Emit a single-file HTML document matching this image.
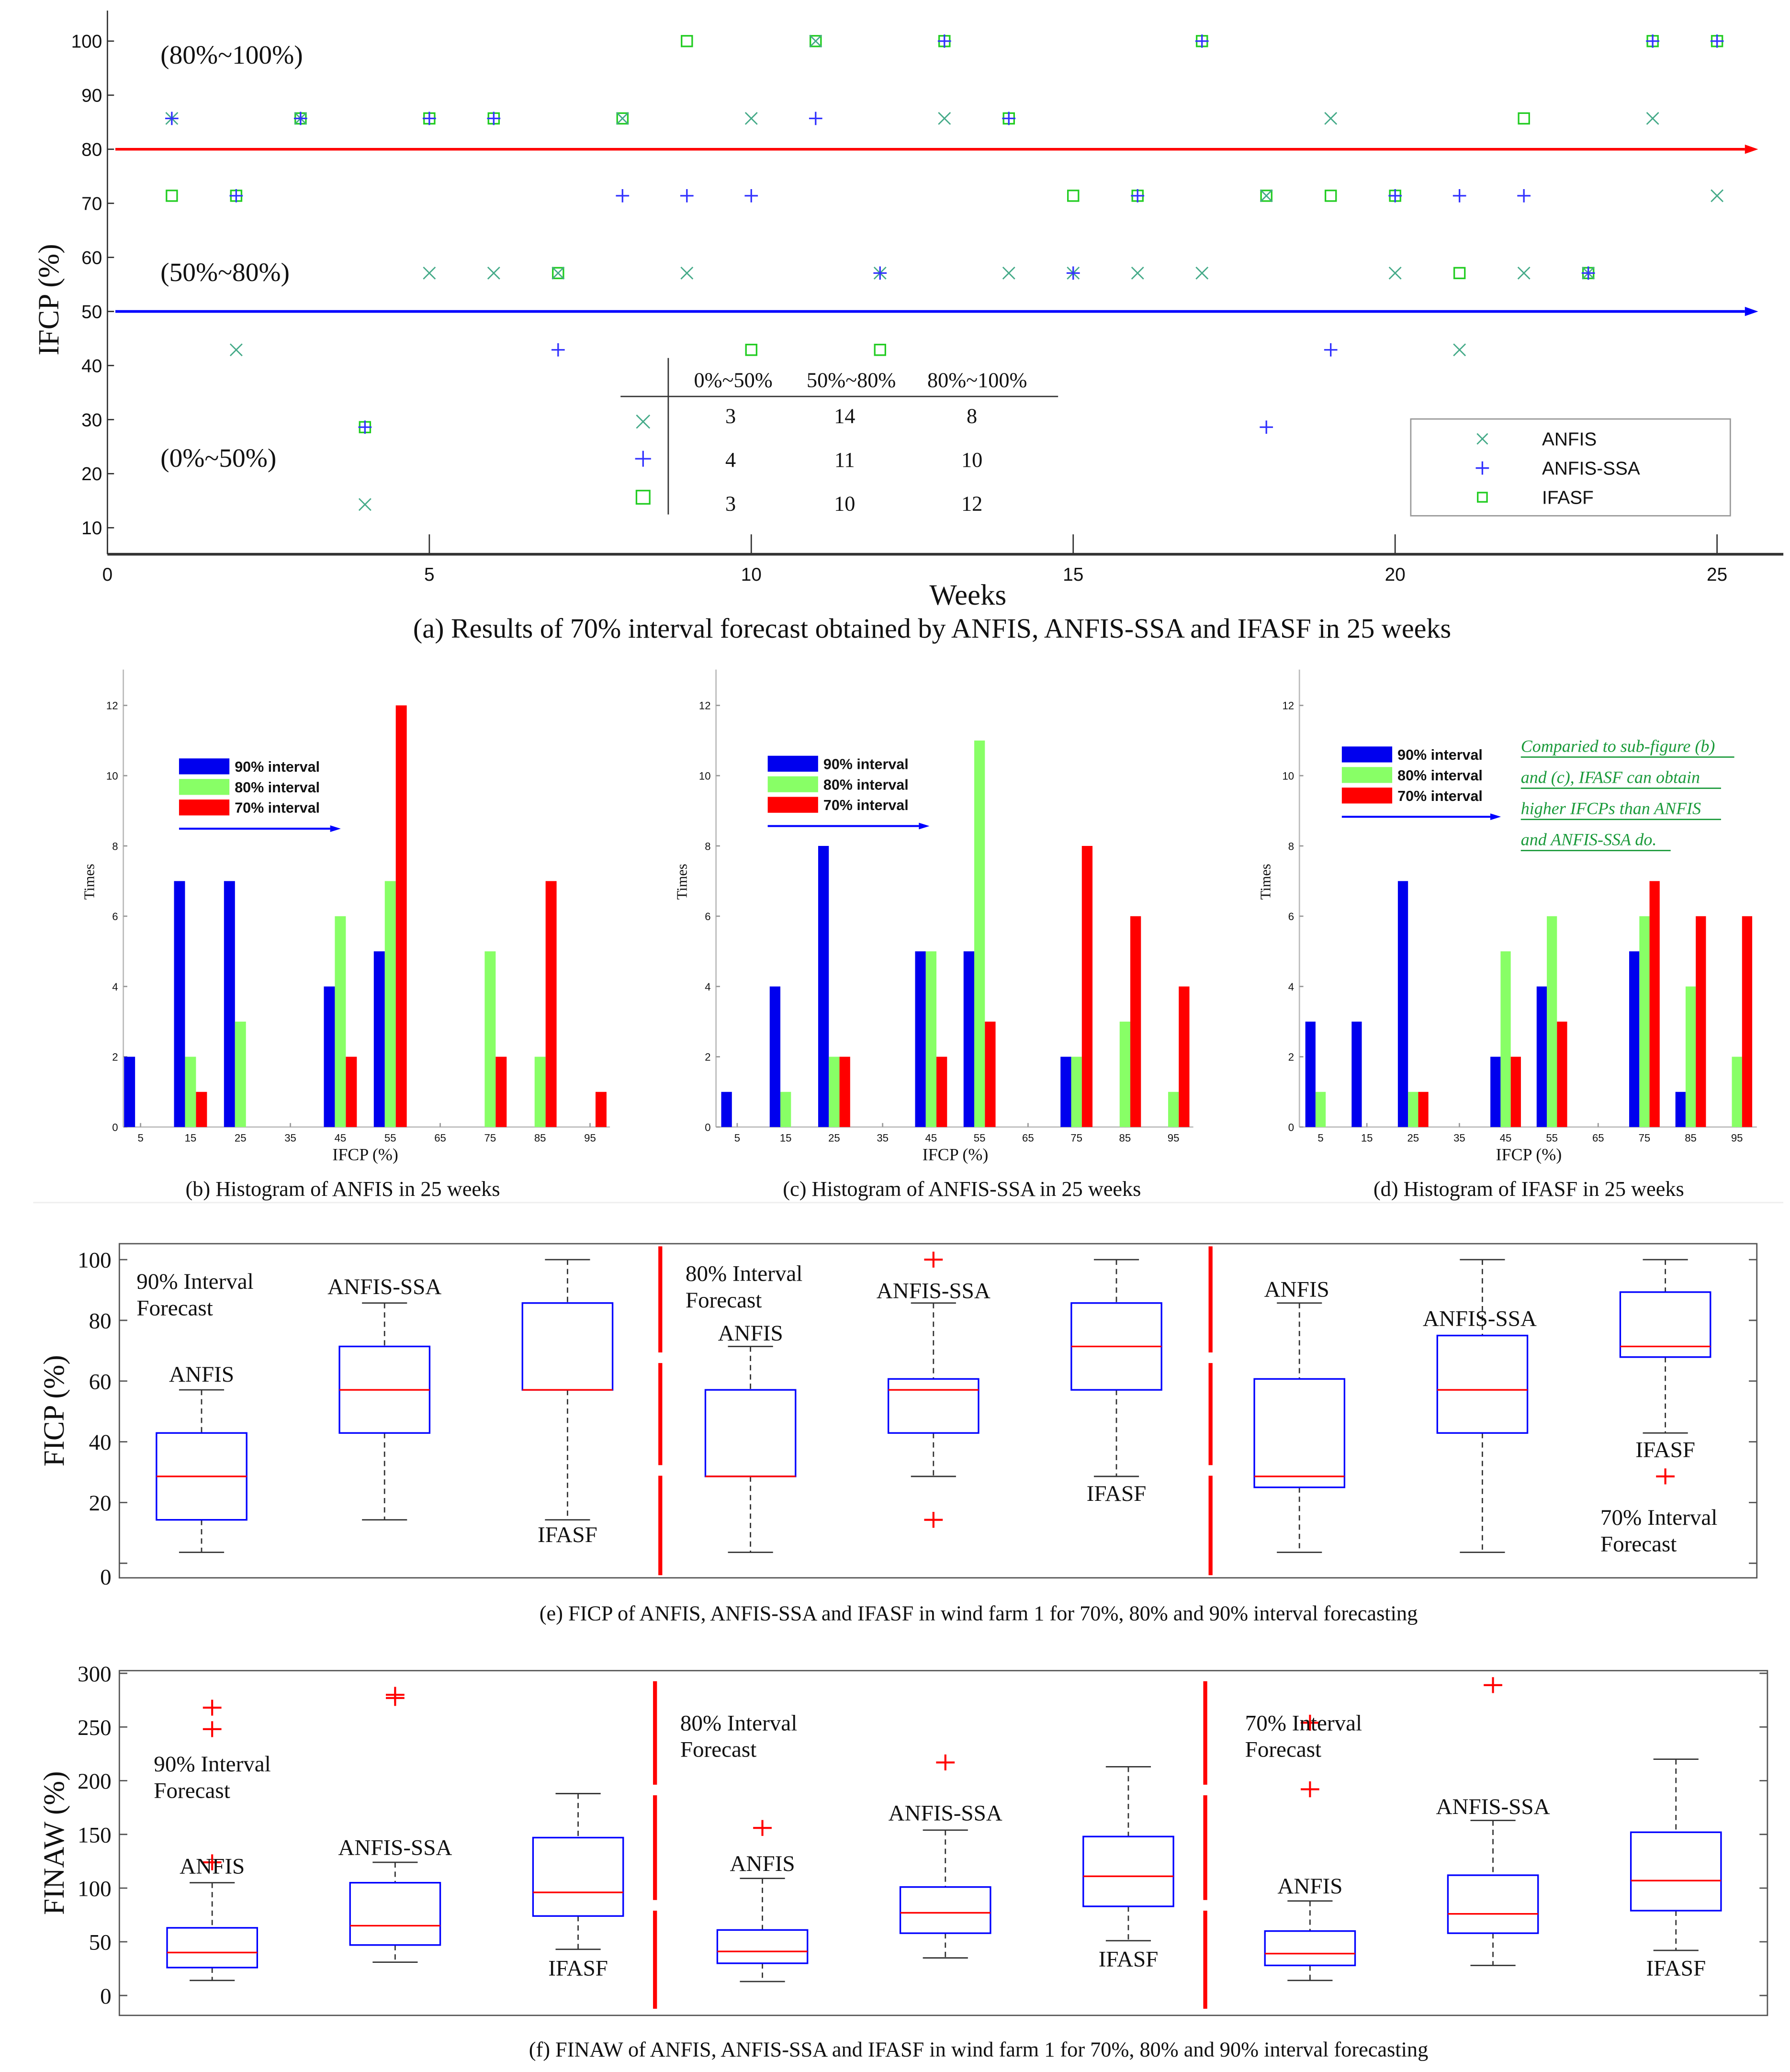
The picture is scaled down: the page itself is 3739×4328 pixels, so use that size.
<!DOCTYPE html>
<html><head><meta charset="utf-8"><style>
html,body{margin:0;padding:0;background:#fff}
svg{display:block}
text{font-family:"Liberation Serif",serif;fill:#111}
.sans{font-family:"Liberation Sans",sans-serif}
</style></head><body>
<svg id="root" width="3739" height="4328" viewBox="0 0 1350 1562.7" xmlns="http://www.w3.org/2000/svg">
<rect width="1350" height="1563" fill="#fff"/>
<g id="pa"></g>
<g id="pb"></g>
<g id="pc"></g>
<g id="pd"></g>
<g id="pe"></g>
<g id="pf"></g>
</svg>
<script>
// ---------- Panel (a) data ----------
const weeks=[1,2,3,4,5,6,7,8,9,10,11,12,13,14,15,16,17,18,19,20,21,22,23,24,25];
const anfisIFCP=[85.7,42.9,85.7,14.3,57.1,57.1,57.1,85.7,57.1,85.7,100,57.1,85.7,57.1,57.1,57.1,57.1,71.4,85.7,57.1,42.9,57.1,57.1,85.7,71.4];
const ssaIFCP=[85.7,71.4,85.7,28.6,85.7,85.7,42.9,71.4,71.4,71.4,85.7,57.1,100,85.7,57.1,71.4,100,28.6,42.9,71.4,71.4,71.4,57.1,100,100];
const ifasfIFCP=[71.4,71.4,85.7,28.6,85.7,85.7,57.1,85.7,100,42.9,100,42.9,100,85.7,71.4,71.4,100,71.4,71.4,71.4,57.1,85.7,57.1,100,100];
const aYTicks=[10,20,30,40,50,60,70,80,90,100];
const aXTicks=[0,5,10,15,20,25];
// ---------- Histogram data ----------
const histCats=[5,15,25,35,45,55,65,75,85,95];
const histYTicks=[0,2,4,6,8,10,12];
const anfis90=[2,7,7,0,4,5,0,0,0,0];
const anfis80=[0,2,3,0,6,7,0,5,2,0];
const anfis70=[0,1,0,0,2,12,0,2,7,1];
const ssa90=[1,4,8,0,5,5,0,2,0,0];
const ssa80=[0,1,2,0,5,11,0,2,3,1];
const ssa70=[0,0,2,0,2,3,0,8,6,4];
const ifasf90=[3,3,7,0,2,4,0,5,1,0];
const ifasf80=[1,0,1,0,5,6,0,6,4,2];
const ifasf70=[0,0,1,0,2,3,0,7,6,6];
// ---------- Box plot data (min, q1, median, q3, max) ----------
const boxLabels=["ANFIS","ANFIS-SSA","IFASF","ANFIS","ANFIS-SSA","IFASF","ANFIS","ANFIS-SSA","IFASF"];
const ficpMin=[3.6,14.3,14.3,3.6,28.6,28.6,3.6,3.6,42.9];
const ficpQ1=[14.3,42.9,57.1,28.6,42.9,57.1,25,42.9,67.9];
const ficpMed=[28.6,57.1,57.1,28.6,57.1,71.4,28.6,57.1,71.4];
const ficpQ3=[42.9,71.4,85.7,57.1,60.7,85.7,60.7,75,89.3];
const ficpMax=[57.1,85.7,100,71.4,85.7,100,85.7,100,100];
const ficpOutIdx=[4,4,8];
const ficpOutVal=[100,14.3,28.6];
const finawMin=[14,31,43,13,35,51,14,28,42];
const finawQ1=[26,47,74,30,58,83,28,58,79];
const finawMed=[40,65,96,41,77,111,39,76,107];
const finawQ3=[63,105,147,61,101,148,60,112,152];
const finawMax=[105,124,188,109,154,213,88,163,220];
const finawOutIdx=[0,0,0,1,1,3,4,6,6,7];
const finawOutVal=[248,268,124,277,280,156,217,192,254,289];
const ficpYTicks=[0,20,40,60,80,100];
const finawYTicks=[0,50,100,150,200,250,300];

const NS="http://www.w3.org/2000/svg";
function mk(p,tag,at,txt){const e=document.createElementNS(NS,tag);for(const k in at)e.setAttribute(k,at[k]);if(txt!==undefined)e.textContent=txt;p.appendChild(e);return e;}

// ===== Panel A =====
(function(){
const g=document.getElementById('pa');
const xs=w=>81+w*48.56, ys=v=>31+(100-v)*4.078;
let e=mk(g,'line',{x1:81,y1:8,x2:81,y2:418,stroke:'#333','stroke-width':1});

e=mk(g,'line',{x1:81,y1:418,x2:1345,y2:418,stroke:'#333','stroke-width':2});

aYTicks.forEach(v=>{mk(g,'line',{x1:81,y1:ys(v),x2:86,y2:ys(v),stroke:'#333'});
 const t=mk(g,'text',{x:77,y:ys(v)+5,'font-size':14,'text-anchor':'end',class:'sans'},v);
 });
aXTicks.forEach(v=>{mk(g,'line',{x1:xs(v),y1:418,x2:xs(v),y2:403,stroke:'#333'});
 const t=mk(g,'text',{x:xs(v),y:438,'font-size':14,'text-anchor':'middle',class:'sans'},v);
 });
[[80,'#f00'],[50,'#00f']].forEach(([v,c])=>{
 const l=mk(g,'line',{x1:87,y1:ys(v),x2:1316,y2:ys(v),stroke:c,'stroke-width':2});
 
 mk(g,'polygon',{points:`1316,${ys(v)-3.5} 1326,${ys(v)} 1316,${ys(v)+3.5}`,fill:c});});
const tt=[[ "(80%~100%)",41],["(50%~80%)",205],["(0%~50%)",345]];
tt.forEach(([s,y])=>{const t=mk(g,'text',{x:121,y:y+7,'font-size':20},s);});
let t=mk(g,'text',{x:0,y:0,'font-size':22,transform:'translate(44,226) rotate(-90)','text-anchor':'middle'},'IFCP (%)');

t=mk(g,'text',{x:730,y:456,'font-size':22,'text-anchor':'middle'},'Weeks');

t=mk(g,'text',{x:703,y:481,'font-size':21,'text-anchor':'middle'},'(a) Results of 70% interval forecast obtained by ANFIS, ANFIS-SSA and IFASF in 25 weeks');

function xm(cx,cy,c,s){return mk(g,'path',{d:`M${cx-s},${cy-s}L${cx+s},${cy+s}M${cx-s},${cy+s}L${cx+s},${cy-s}`,stroke:c,'stroke-width':1,fill:'none'});}
function pm(cx,cy,c,s){return mk(g,'path',{d:`M${cx-s},${cy}L${cx+s},${cy}M${cx},${cy-s}L${cx},${cy+s}`,stroke:c,'stroke-width':1.2,fill:'none'});}
function sm(cx,cy,c,s){return mk(g,'rect',{x:cx-s,y:cy-s,width:2*s,height:2*s,stroke:c,'stroke-width':1.2,fill:'none'});}
weeks.forEach((w,i)=>{
 let m=sm(xs(w),ys(ifasfIFCP[i]),'#2c2',4);
 m=xm(xs(w),ys(anfisIFCP[i]),'#4a8',4.5);
 m=pm(xs(w),ys(ssaIFCP[i]),'#33f',5);
});
const tb=mk(g,'g',{});
mk(tb,'line',{x1:504,y1:270,x2:504,y2:388,stroke:'#333'});
mk(tb,'line',{x1:468,y1:299,x2:798,y2:299,stroke:'#333'});
[["0%~50%",553],["50%~80%",642],["80%~100%",737]].forEach(([s,x])=>mk(tb,'text',{x:x,y:292,'font-size':16,'text-anchor':'middle'},s));
const cnt=[[3,14,8],[4,11,10],[3,10,12]];
cnt.forEach((r,i)=>r.forEach((v,j)=>mk(tb,'text',{x:[551,637,733][j],y:319+i*33,'font-size':16,'text-anchor':'middle'},v)));
xm(485,318,'#4a8',5);pm(485,346,'#33f',6);sm(485,375,'#2c2',5);
const lg=mk(g,'g',{});
mk(lg,'rect',{x:1064,y:316,width:241,height:73,fill:'#fff',stroke:'#999'});
[["ANFIS",331],["ANFIS-SSA",353],["IFASF",375]].forEach(([s,y])=>mk(lg,'text',{x:1163,y:y+5,'font-size':14,class:'sans'},s));
xm(1118,331,'#4a8',4);pm(1118,353,'#33f',5);sm(1118,375,'#2c2',3.5);
})();

// ===== Histograms =====
function hist(id,x0,t5,t95,d90,d80,d70,cap,extra){
 const g=document.getElementById(id);
 const sp=(t95-t5)/9, base=850, ys=v=>base-v*26.5, xc=c=>t5+(c-5)/10*sp;
 let e=mk(g,'line',{x1:x0,y1:505,x2:x0,y2:base,stroke:'#bbb'});
 e=mk(g,'line',{x1:x0,y1:base,x2:t95+15,y2:base,stroke:'#bbb'});
 histYTicks.forEach(v=>{mk(g,'line',{x1:x0,y1:ys(v),x2:x0+3,y2:ys(v),stroke:'#999'});
  const t=mk(g,'text',{x:x0-4,y:ys(v)+3,'font-size':8,'text-anchor':'end',class:'sans'},v);});
 histCats.forEach(c=>{mk(g,'line',{x1:xc(c),y1:base,x2:xc(c),y2:base-3,stroke:'#999'});
  const t=mk(g,'text',{x:xc(c),y:base+11,'font-size':8,'text-anchor':'middle',class:'sans'},c);});
 const bw=sp*0.22;
 [[d90,'#0000ee',-0.33],[d80,'#88ff66',-0.11],[d70,'#ff0000',0.11]].forEach(([d,col,off])=>{
  histCats.forEach((c,i)=>{if(d[i]>0){const r=mk(g,'rect',{x:xc(c)+off*sp,y:ys(d[i]),width:bw,height:base-ys(d[i]),fill:col});
   }});});
 let t=mk(g,'text',{x:0,y:0,'font-size':11,transform:`translate(${x0-22},665) rotate(-90)`,'text-anchor':'middle'},'Times');
 
 t=mk(g,'text',{x:(t5+t95)/2,y:875,'font-size':13,'text-anchor':'middle'},'IFCP (%)');
 
 t=mk(g,'text',{x:(t5+t95)/2+(x0<200?-17:(x0<700?5:0)),y:902,'font-size':16,'text-anchor':'middle'},cap);
 
 extra(g);
}
function hleg(g,lx,ly,aw){
 const lg=mk(g,'g',{});
 [['#0000ee','90% interval'],['#88ff66','80% interval'],['#ff0000','70% interval']].forEach(([c,s],i)=>{
  mk(lg,'rect',{x:lx,y:ly+i*15.5,width:38,height:12,fill:c});
  mk(lg,'text',{x:lx+42,y:ly+i*15.5+10,'font-size':11,class:'sans','font-weight':'bold'},s);});
 mk(lg,'line',{x1:lx,y1:ly+53,x2:lx+aw-8,y2:ly+53,stroke:'#00f','stroke-width':1.5});
 mk(lg,'polygon',{points:`${lx+aw-8},${ly+50.5} ${lx+aw},${ly+53} ${lx+aw-8},${ly+55.5}`,fill:'#00f'});
}
hist('pb',93,106,445,anfis90,anfis80,anfis70,'(b) Histogram of ANFIS in 25 weeks',g=>hleg(g,135,572,122));
hist('pc',540,556,885,ssa90,ssa80,ssa70,'(c) Histogram of ANFIS-SSA in 25 weeks',g=>hleg(g,579,570,122));
hist('pd',980,996,1310,ifasf90,ifasf80,ifasf70,'(d) Histogram of IFASF in 25 weeks',g=>{hleg(g,1012,563,120);
 const n=mk(g,'g',{});
 ['Comparied to sub-figure (b)','and (c), IFASF can obtain','higher IFCPs than ANFIS','and ANFIS-SSA do.'].forEach((s,i)=>{
  mk(n,'text',{x:1147,y:567+i*23.5,'font-size':13,'font-style':'italic',style:'fill:#1a9a3a'},s);
  mk(n,'line',{x1:1147,y1:571+i*23.5,x2:[1308,1298,1298,1260][i],y2:571+i*23.5,stroke:'#1a9a3a'});});});
mk(document.getElementById('root'),'line',{x1:25,y1:907,x2:1345,y2:907,stroke:'#eee'});

// ===== Box plots =====
function boxp(id,top,bot,y0px,pxPer,centers,mins,q1,med,q3,maxs,oi,ov,yt,ytitle,cap,capy,labels){
 const g=document.getElementById(id), ys=v=>y0px-v*pxPer;
 const right=id=='pe'?1325:1333;
 let e=mk(g,'rect',{x:90,y:top,width:right-90,height:bot-top,fill:'none',stroke:'#555'});
 
 yt.forEach(v=>{mk(g,'line',{x1:90,y1:ys(v),x2:96,y2:ys(v),stroke:'#555'});mk(g,'line',{x1:right-6,y1:ys(v),x2:right,y2:ys(v),stroke:'#555'});
  const t=mk(g,'text',{x:84,y:ys(v)+(id=='pe'&&v==0?16:6),'font-size':17,'text-anchor':'end'},v);});
 centers.forEach((c,i)=>{
  const bg=mk(g,'g',{});
  mk(bg,'line',{x1:c,y1:ys(maxs[i]),x2:c,y2:ys(q3[i]),stroke:'#333','stroke-dasharray':'4,3'});
  mk(bg,'line',{x1:c,y1:ys(q1[i]),x2:c,y2:ys(mins[i]),stroke:'#333','stroke-dasharray':'4,3'});
  mk(bg,'line',{x1:c-17,y1:ys(maxs[i]),x2:c+17,y2:ys(maxs[i]),stroke:'#333'});
  mk(bg,'line',{x1:c-17,y1:ys(mins[i]),x2:c+17,y2:ys(mins[i]),stroke:'#333'});
  mk(bg,'rect',{x:c-34,y:ys(q3[i]),width:68,height:ys(q1[i])-ys(q3[i]),fill:'none',stroke:'#00f','stroke-width':1.2});
  mk(bg,'line',{x1:c-34,y1:ys(med[i]),x2:c+34,y2:ys(med[i]),stroke:'#f00','stroke-width':1.2});
 });
 oi.forEach((k,j)=>{const c=centers[k],y=ys(ov[j]);const p=mk(g,'path',{d:`M${c-7},${y}L${c+7},${y}M${c},${y-6}L${c},${y+6}`,stroke:'#f00','stroke-width':1.5});
  });
 let t=mk(g,'text',{x:0,y:0,'font-size':22,transform:`translate(48,${(top+bot)/2}) rotate(-90)`,'text-anchor':'middle'},ytitle);
 
 t=mk(g,'text',{x:738,y:capy,'font-size':16,'text-anchor':'middle'},cap);
 return g;
}
function divs(g,x,segs){segs.forEach(([a,b])=>{const l=mk(g,'line',{x1:x,y1:a,x2:x,y2:b,stroke:'#f00','stroke-width':3});});}
function lab(g,s,x,y,anc){const t=mk(g,'text',{x:x,y:y,'font-size':17,'text-anchor':anc||'middle'},s);}
const ge=boxp('pe',938,1190,1179,2.29,[152,290,428,566,704,842,980,1118,1256],ficpMin,ficpQ1,ficpMed,ficpQ3,ficpMax,ficpOutIdx,ficpOutVal,ficpYTicks,'FICP (%)','(e) FICP of ANFIS, ANFIS-SSA and IFASF in wind farm 1 for 70%, 80% and 90% interval forecasting',1222,boxLabels);
divs(ge,498,[[940,1020],[1028,1105],[1113,1188]]);divs(ge,913,[[940,1020],[1028,1105],[1113,1188]]);
lab(ge,'90% Interval',103,972,'start');lab(ge,'Forecast',103,992,'start');
lab(ge,'ANFIS',152,1042);lab(ge,'ANFIS-SSA',290,976);lab(ge,'IFASF',428,1163);
lab(ge,'80% Interval',517,966,'start');lab(ge,'Forecast',517,986,'start');
lab(ge,'ANFIS',566,1011);lab(ge,'ANFIS-SSA',704,979);lab(ge,'IFASF',842,1132);
lab(ge,'ANFIS',978,978);lab(ge,'ANFIS-SSA',1116,1000);lab(ge,'IFASF',1256,1099);
lab(ge,'70% Interval',1207,1150,'start');lab(ge,'Forecast',1207,1170,'start');
const gf=boxp('pf',1260,1520,1505,0.81,[160,298,436,575,713,851,988,1126,1264],finawMin,finawQ1,finawMed,finawQ3,finawMax,finawOutIdx,finawOutVal,finawYTicks,'FINAW (%)','(f) FINAW of ANFIS, ANFIS-SSA and IFASF in wind farm 1 for 70%, 80% and 90% interval forecasting',1551,boxLabels);
divs(gf,494,[[1268,1346],[1354,1433],[1441,1515]]);divs(gf,909,[[1268,1346],[1354,1433],[1441,1515]]);
lab(gf,'90% Interval',116,1336,'start');lab(gf,'Forecast',116,1356,'start');
lab(gf,'ANFIS',160,1413);lab(gf,'ANFIS-SSA',298,1399);lab(gf,'IFASF',436,1490);
lab(gf,'80% Interval',513,1305,'start');lab(gf,'Forecast',513,1325,'start');
lab(gf,'ANFIS',575,1411);lab(gf,'ANFIS-SSA',713,1373);lab(gf,'IFASF',851,1483);
lab(gf,'70% Interval',939,1305,'start');lab(gf,'Forecast',939,1325,'start');
lab(gf,'ANFIS',988,1428);lab(gf,'ANFIS-SSA',1126,1368);lab(gf,'IFASF',1264,1490);
</script>
</body></html>
